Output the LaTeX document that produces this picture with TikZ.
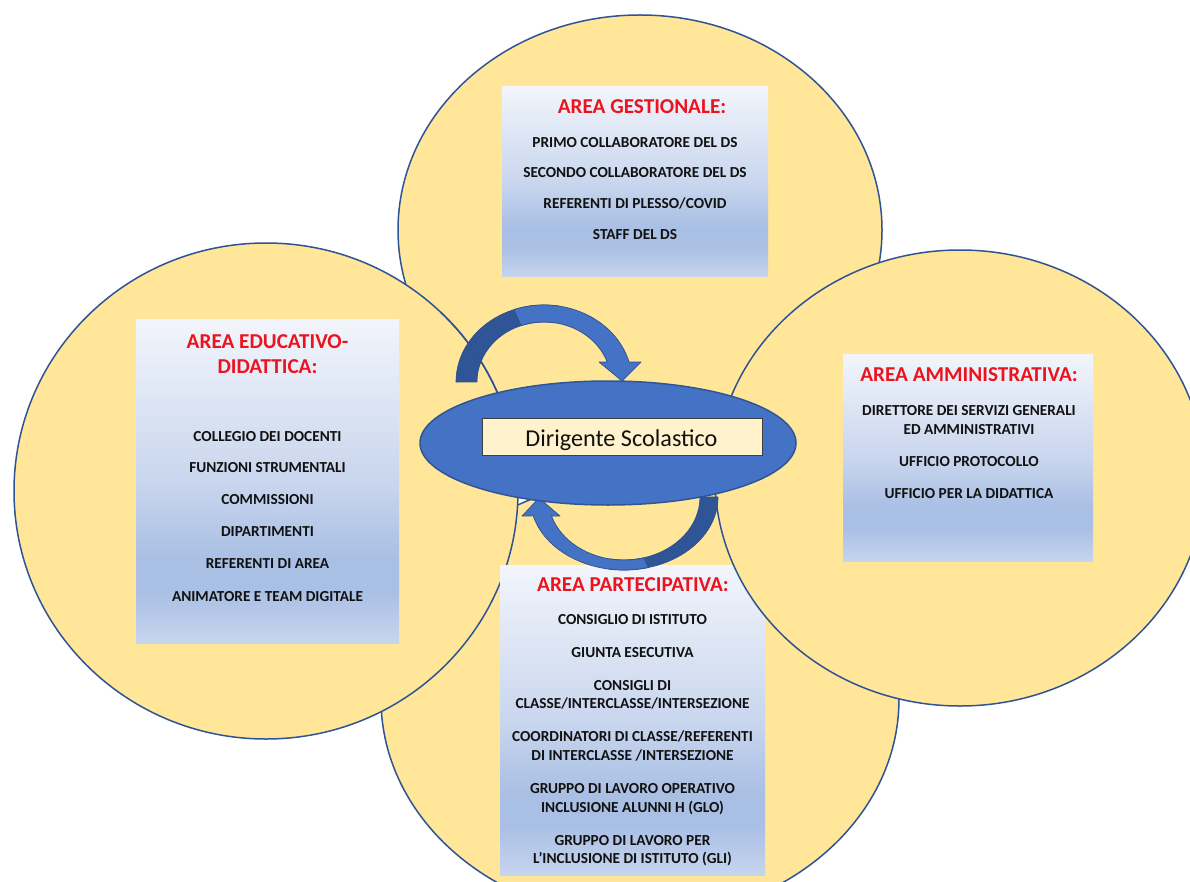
\documentclass[tikz,border=0pt]{standalone}
\usepackage{fontspec}
\setmainfont{Carlito}
\usetikzlibrary{shapes.geometric}

\definecolor{ringfill}{HTML}{FFE699}
\definecolor{ringline}{HTML}{2F5496}
\definecolor{dsfill}{HTML}{4472C4}
\definecolor{dsline}{HTML}{2F5597}
\definecolor{arrdark}{HTML}{2F5597}
\definecolor{arrlight}{HTML}{4472C4}
\definecolor{arrline}{HTML}{2E5090}
\definecolor{labelfill}{HTML}{FFF2CC}
\definecolor{labelline}{HTML}{404040}
\definecolor{titlered}{RGB}{235,20,30}
\definecolor{textdark}{HTML}{111111}
\definecolor{gTop}{HTML}{F2F5FB}
\definecolor{gMid}{HTML}{C9D6EE}
\definecolor{gDeep}{HTML}{A9BFE4}
\definecolor{gBot}{HTML}{C7D5EE}

% light-to-blue vertical gradient of the text panels (top light, deep band near the bottom)
\pgfdeclareverticalshading{boxgrad}{100bp}{%
  color(0bp)=(gBot); color(25bp)=(gBot); color(33bp)=(gDeep);
  color(38bp)=(gDeep); color(50bp)=(gMid); color(75bp)=(gTop); color(100bp)=(gTop)}

\begin{document}
\begin{tikzpicture}[x=1pt,y=-1pt,
  area/.style={fill=ringfill, draw=ringline, line width=1.5pt},
  panel/.style={rectangle, inner sep=0pt, shade, shading=boxgrad, draw=none},
  areatitle/.style={anchor=base, inner sep=0pt, text=titlered,
    font=\bfseries\fontsize{21.2}{25}\selectfont},
  item/.style={anchor=base, inner sep=0pt, text=textdark,
    font=\bfseries\fontsize{15.3}{18}\selectfont},
  darkband/.style={fill=arrdark, draw=arrline, line width=0.7pt, line join=round},
  lightband/.style={fill=arrlight, draw=arrline, line width=0.7pt, line join=round}]

\useasboundingbox (0,0) rectangle (1190,882);
\fill[white] (0,0) rectangle (1190,882);
\clip (0,0) rectangle (1190,882);

% the four area discs
\draw[area] (640,230) ellipse [x radius=242, y radius=215];
\draw[area] (640,699) ellipse [x radius=259, y radius=220];
\draw[area] (266,491) ellipse [x radius=252, y radius=248];

% participation panel
\node[panel, minimum width=265pt, minimum height=310pt] (pbox) at (632.5,720) {};
\node[areatitle] (pt) at (633,591.8) {AREA PARTECIPATIVA:};
\node[item] (p1) at (632.5,624.9) {CONSIGLIO DI ISTITUTO};
\node[item] (p2) at (632.5,657.9) {GIUNTA ESECUTIVA};
\node[item] (p3) at (632.5,690.9) {CONSIGLI DI};
\node[item] (p4) at (632.5,708.9) {CLASSE/INTERCLASSE/INTERSEZIONE};
\node[item] (p5) at (632.5,741.9) {COORDINATORI DI CLASSE/REFERENTI};
\node[item] (p6) at (632.5,760.9) {DI INTERCLASSE /INTERSEZIONE};
\node[item] (p7) at (632.5,793.9) {GRUPPO DI LAVORO OPERATIVO};
\node[item] (p8) at (632.5,812.9) {INCLUSIONE ALUNNI H (GLO)};
\node[item] (p9) at (632.5,845.9) {GRUPPO DI LAVORO PER};
\node[item] (p10) at (632.5,863.9) {L’INCLUSIONE DI ISTITUTO (GLI)};

\draw[area] (960,478) ellipse [x radius=245, y radius=228];

% management panel
\node[panel, minimum width=266pt, minimum height=190pt] (gbox) at (635,182) {};
\node[areatitle] (gt) at (642,113.8) {AREA GESTIONALE:};
\node[item] (g1) at (635,147.9) {PRIMO COLLABORATORE DEL DS};
\node[item] (g2) at (635,177.9) {SECONDO COLLABORATORE DEL DS};
\node[item] (g3) at (635,208.9) {REFERENTI DI PLESSO/COVID};
\node[item] (g4) at (635,239.9) {STAFF DEL DS};

% teaching panel
\node[panel, minimum width=263pt, minimum height=324pt] (ebox) at (267.5,481) {};
\node[areatitle] (et1) at (267.5,348.8) {AREA EDUCATIVO-};
\node[areatitle] (et2) at (267.5,373.8) {DIDATTICA:};
\node[item] (e1) at (267.5,441.9) {COLLEGIO DEI DOCENTI};
\node[item] (e2) at (267.5,472.9) {FUNZIONI STRUMENTALI};
\node[item] (e3) at (267.5,504.9) {COMMISSIONI};
\node[item] (e4) at (267.5,536.9) {DIPARTIMENTI};
\node[item] (e5) at (267.5,568.9) {REFERENTI DI AREA};
\node[item] (e6) at (267.5,601.9) {ANIMATORE E TEAM DIGITALE};

% administration panel
\node[panel, minimum width=250pt, minimum height=207pt] (abox) at (968,457.5) {};
\node[areatitle] (at) at (969,381.8) {AREA AMMINISTRATIVA:};
\node[item] (a1) at (969,415.9) {DIRETTORE DEI SERVIZI GENERALI};
\node[item] (a2) at (969,434.9) {ED AMMINISTRATIVI};
\node[item] (a3) at (969,466.9) {UFFICIO PROTOCOLLO};
\node[item] (a4) at (969,498.9) {UFFICIO PER LA DIDATTICA};

% upper curved arrow (tail on the left, head pointing down)
\path[darkband] (456,382) arc[start angle=180, end angle=280, x radius=88, y radius=77]
  -- (555.6,322.9) arc[start angle=280, end angle=180, x radius=67, y radius=60] -- cycle;
\path[lightband] (513.9,309.6) arc[start angle=250, end angle=345, x radius=88, y radius=77]
  -- (641,362) -- (622,381) -- (599,362) -- (607.2,362)
  arc[start angle=340.53, end angle=250, x radius=67, y radius=60] -- cycle;

% lower curved arrow (tail on the right, head pointing up)
\path[darkband] (718,497) arc[start angle=0, end angle=100, x radius=94, y radius=73]
  -- (610.8,559.0) arc[start angle=100, end angle=0, x radius=76, y radius=63] -- cycle;
\path[lightband] (648.3,567.5) arc[start angle=75, end angle=165, x radius=94, y radius=73]
  -- (522,516) -- (539,498) -- (560,516) -- (551.5,516)
  arc[start angle=162.45, end angle=75, x radius=76, y radius=63] -- cycle;

% rim of the teaching disc passes over the upper arrow
\begin{scope}
  \clip (440,290) rectangle (520,400);
  \draw[ringline, line width=1.5pt] (266,491) ellipse [x radius=252, y radius=248];
\end{scope}

% head teacher
\node[ellipse, fill=dsfill, draw=dsline, line width=1.5pt, inner sep=0pt,
  minimum width=376pt, minimum height=124pt] (ds) at (608,443) {};
\node[rectangle, fill=labelfill, draw=labelline, line width=0.8pt, inner sep=0pt,
  minimum width=280pt, minimum height=37pt] (dslabel) at (622,436.5) {};
\node[anchor=base, inner sep=0pt, text=textdark, font=\fontsize{24.2}{29}\selectfont]
  (dstext) at (621.5,446.8) {Dirigente Scolastico};

\end{tikzpicture}
\end{document}
